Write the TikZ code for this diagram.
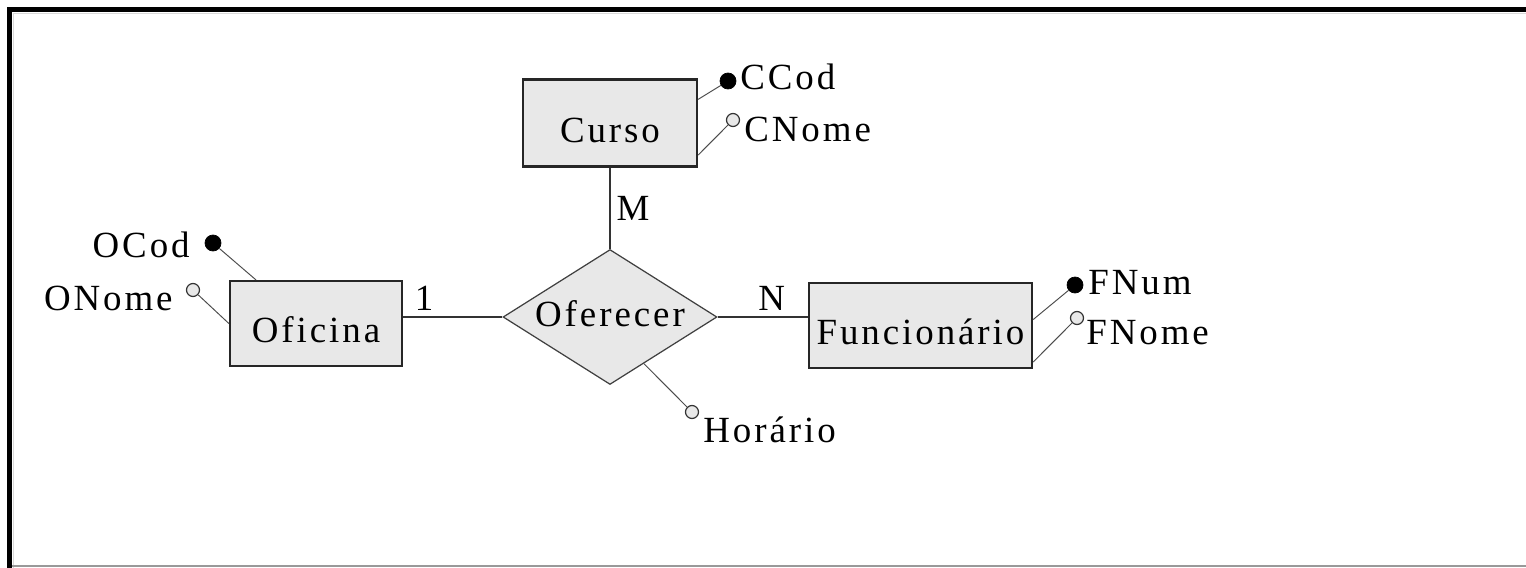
\documentclass[tikz,border=0pt]{standalone}
\usepackage{fontspec}
\setmainfont[LetterSpace=8]{Liberation Serif}
\usetikzlibrary{shapes.geometric}
\definecolor{boxgray}{RGB}{232,232,232}
\tikzset{
    entity/.style={draw=black!85, fill=boxgray, line width=1.3pt, inner sep=0pt, text height=22pt},
    relation/.style={diamond, aspect=1.585, draw=black!75, fill=boxgray, line width=0.7pt, inner sep=0pt, text depth=4pt},
    keyattr/.style={circle, draw=black, fill=black, inner sep=0pt, minimum size=0.32cm},
    attr/.style={circle, draw=black!80, fill=boxgray, line width=0.7pt, inner sep=0pt, minimum size=0.26cm},
    attrline/.style={draw=black!70, line width=0.55pt},
    link/.style={draw=black!80, line width=0.9pt}
}
\begin{document}
\begin{tikzpicture}[x=0.02cm, y=-0.02cm, font=\fontsize{21}{25}\selectfont]
    \useasboundingbox (0,0) rectangle (1526,568);
    % frame
    \draw [line width=0.1cm] (9.5,568) -- (9.5,9.5) -- (1526,9.5);
    \draw [black!15, line width=0.04cm] (13.5,568) -- (13.5,13.5) -- (1526,13.5);
    \draw [black!40, line width=0.04cm] (12,566) -- (1526,566);

    % entities and relationship
    \node [entity, minimum width=3.48cm, minimum height=1.74cm] (curso) at (610,123) {Curso};
    \node [entity, minimum width=3.44cm, minimum height=1.7cm] (oficina) at (316,323.5) {Oficina};
    \node [entity, minimum width=4.46cm, minimum height=1.7cm] (funcionario) at (920.5,325.5) {Funcionário};
    \node [relation, minimum width=4.28cm, minimum height=2.7cm] (oferecer) at (610,317) {Oferecer};

    \draw [link] (curso.south) -- node [right] {M} (oferecer.north);
    \draw [link] (oficina.east |- oferecer.west) -- node [pos=0.21, above] {1} (oferecer.west);
    \draw [link] (oferecer.east) -- node [pos=0.6, above] {N} (oferecer.east -| funcionario.west);

    % attributes
    \node [keyattr] (ccod) at (728,81) {};
    \node [attr] (cnome) at (733,120) {};
    \node [keyattr] (ocod) at (213,243) {};
    \node [attr] (onome) at (193,290) {};
    \node [attr] (horario) at (692,412) {};
    \node [keyattr] (fnum) at (1075,285) {};
    \node [attr] (fnome) at (1077,318) {};

    \node [anchor=west, inner sep=0pt] at (740,77) {CCod};
    \node [anchor=west, inner sep=0pt] at (744,129) {CNome};
    \node [anchor=east, inner sep=0pt] at (190,245) {OCod};
    \node [anchor=east, inner sep=0pt] at (173,298) {ONome};
    \node [anchor=west, inner sep=0pt] at (703,430) {Horário};
    \node [anchor=west, inner sep=0pt] at (1088,283) {FNum};
    \node [anchor=west, inner sep=0pt] at (1086,333) {FNome};

    \draw [attrline] (curso.15) -- (ccod);
    \draw [attrline] (curso.-20) -- (cnome);
    \draw [attrline] (oficina.144) -- (ocod);
    \draw [attrline] (oficina.west) -- (onome);
    \draw [attrline] (oferecer.-54) -- (horario);
    \draw [attrline] (funcionario.3) -- (fnum);
    \draw [attrline] (funcionario.-18) -- (fnome);
\end{tikzpicture}
\end{document}
